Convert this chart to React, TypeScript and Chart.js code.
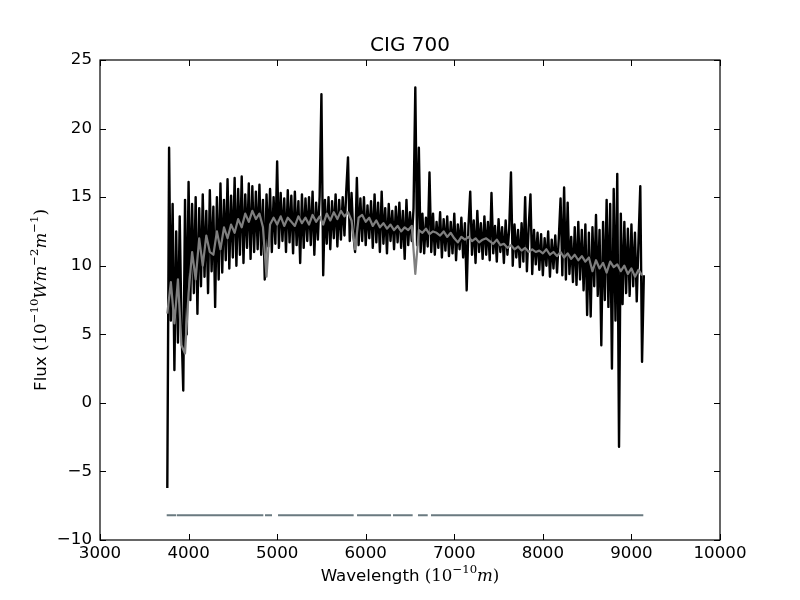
import React, { useEffect, useRef } from 'react'
import { Chart, registerables } from 'chart.js'

Chart.register(...registerables)

// black spectrum: sampled every 20 A from 3760 A
const fluxStart = 3760
const fluxStep = 20
const fluxValues = [
  -6.2, 18.6, 6.0, 14.5, 2.4, 12.5, 4.4, 13.6, 5.5, 0.9,
  14.8, 5.0, 16.1, 7.5, 14.5, 8.0, 15.0, 6.5, 14.2, 8.5,
  15.2, 9.2, 14.0, 8.0, 15.5, 9.6, 14.3, 7.0, 15.0, 9.0,
  16.0, 9.5, 14.8, 10.4, 16.3, 9.8, 15.1, 10.6, 16.4, 10.0,
  15.6, 10.8, 16.5, 10.2, 15.2, 11.3, 16.0, 10.5, 15.8, 11.0,
  15.4, 11.2, 15.9, 10.8, 14.8, 9.0, 15.2, 11.4, 15.6, 11.0,
  15.0, 11.6, 17.6, 11.3, 15.3, 11.8, 14.9, 11.0, 15.5, 11.7,
  15.1, 10.9, 15.4, 11.5, 14.7, 10.2, 15.2, 11.3, 14.9, 11.8,
  15.0, 11.5, 15.4, 10.8, 14.6, 11.9, 15.1, 22.5, 9.3, 14.8,
  11.6, 15.0, 11.2, 14.7, 12.0, 15.2, 11.4, 14.8, 11.9, 15.0,
  12.2, 15.4, 17.9, 11.8, 15.3, 12.3, 11.0, 16.4, 11.5, 14.9,
  11.8, 15.0, 11.5, 14.4, 12.0, 14.7, 11.3, 15.2, 11.7, 14.6,
  11.0, 15.4, 11.6, 14.2, 10.9, 14.5, 11.8, 14.0, 11.2, 14.3,
  11.7, 14.6, 11.3, 14.0, 10.5, 14.8, 11.5, 13.9, 11.8, 14.2,
  23.0, 11.5, 18.6, 11.0, 13.8, 10.9, 13.5, 11.4, 16.8, 11.0,
  13.8, 10.8, 13.2, 11.3, 13.9, 10.6, 13.4, 11.1, 13.6, 10.7,
  13.2, 10.9, 13.8, 10.4, 13.0, 11.2, 13.5, 10.6, 13.1, 8.2,
  12.9, 15.4, 10.8, 13.3, 10.2, 14.0, 11.0, 13.1, 10.5, 13.6,
  10.8, 13.2, 10.4, 15.3, 10.9, 12.9, 10.3, 13.4, 11.0, 12.8,
  10.2, 13.3, 10.8, 12.7, 16.8, 10.0, 13.0, 10.6, 12.6, 9.9,
  13.1, 10.3, 15.0, 9.6, 12.8, 15.2, 9.4, 12.6, 10.1, 12.4,
  9.7, 12.3, 9.3, 12.0, 10.0, 12.5, 9.2, 11.9, 9.8, 12.2,
  9.5, 12.0, 14.9, 9.3, 15.7, 9.0, 14.6, 9.4, 12.1, 8.8,
  12.8, 8.6, 13.2, 9.0, 12.6, 8.2, 13.0, 6.4, 12.4, 6.3,
  12.8, 8.5, 13.7, 7.8, 12.6, 4.2, 13.2, 7.5, 14.8, 7.0,
  14.5, 2.5, 15.6, 6.0, 16.7, -3.2, 13.8, 7.2, 13.2, 8.0,
  12.7, 7.8, 13.0, 8.5, 12.4, 7.4, 11.8, 15.8, 3.0, 9.3,
]

// grey fitted spectrum: sampled every 40 A from 3760 A
const fitStart = 3760
const fitStep = 40
const fitValues = [
  6.5, 8.8, 5.8, 9.0, 4.2, 3.6, 8.0, 11.0, 9.0, 12.0,
  10.0, 12.2, 11.0, 10.8, 12.5, 11.2, 12.8, 12.0, 13.0, 12.4,
  13.4, 12.8, 13.8, 13.2, 14.0, 13.4, 13.8, 12.8, 9.2, 13.0,
  13.5, 13.0, 13.6, 12.9, 13.5, 13.2, 12.9, 13.6, 13.1, 13.5,
  13.0, 13.7, 13.2, 13.6, 13.0, 13.8, 13.3, 13.9, 13.4, 14.0,
  13.6, 13.9, 13.3, 11.2, 13.5, 13.7, 13.2, 13.5, 12.9, 13.3,
  12.8, 13.1, 12.7, 13.0, 12.6, 12.9, 12.5, 12.8, 12.6, 12.9,
  9.4, 12.6, 12.4, 12.7, 12.3, 12.5, 12.4, 12.2, 12.5, 12.1,
  12.4, 12.0, 11.7, 12.1, 11.9, 12.1, 11.8, 12.0, 11.7, 11.9,
  12.0, 11.8, 11.6, 11.9, 11.5, 11.6, 11.3, 11.5, 11.2, 11.4,
  11.1, 11.3, 11.0, 11.2, 11.0, 11.1, 10.9, 11.2, 10.8, 11.0,
  10.7, 11.0, 10.6, 10.9, 10.5, 10.8, 10.4, 10.7, 10.3, 10.6,
  9.6, 10.4, 9.8, 10.2, 9.5, 10.3, 9.9, 10.1, 9.6, 10.0,
  9.4, 9.8, 9.2, 9.7, 9.3,
]

// good-pixel mask segments, drawn at a constant level
const maskLevel = -8.2
const maskStarts = [3753, 3866, 4863, 5010, 5902, 6308, 6590, 6737]
const maskEnds = [3858, 4844, 4942, 5864, 6286, 6530, 6700, 9134]

const xTicks = [3000, 4000, 5000, 6000, 7000, 8000, 9000, 10000]
const yTicks = [-10, -5, 0, 5, 10, 15, 20, 25]

const titleText = 'CIG 700'
const FONT = '"DejaVu Sans", sans-serif'
const MATH = '"DejaVu Serif", serif'
const SIZE = 16.67

type Part = { t: string; font: string; dy?: number }

const sup = (t: string): Part => ({ t, font: `${SIZE * 0.7}px ${MATH}`, dy: -7 })
const it = (t: string): Part => ({ t, font: `italic ${SIZE}px ${MATH}` })
const rm = (t: string): Part => ({ t, font: `${SIZE}px ${MATH}` })
const sans = (t: string): Part => ({ t, font: `${SIZE}px ${FONT}` })

const xLabel: Part[] = [sans('Wavelength '), rm('(10'), sup('\u221210'), it('m'), rm(')')]
const yLabel: Part[] = [
  sans('Flux '), rm('(10'), sup('\u221210'), it('Wm'), sup('\u22122'), it('m'), sup('\u22121'), rm(')'),
]

function drawRich(ctx: CanvasRenderingContext2D, parts: Part[], x: number, y: number, rot: number) {
  ctx.save()
  ctx.translate(x, y)
  ctx.rotate(rot)
  ctx.textBaseline = 'middle'
  ctx.textAlign = 'left'
  ctx.fillStyle = '#000'
  let w = 0
  for (const p of parts) {
    ctx.font = p.font
    w += ctx.measureText(p.t).width
  }
  let cx = -w / 2
  for (const p of parts) {
    ctx.font = p.font
    ctx.fillText(p.t, cx, p.dy || 0)
    cx += ctx.measureText(p.t).width
  }
  ctx.restore()
}

const framePlugin = {
  id: 'frame',
  afterDraw(chart: any) {
    const { ctx, chartArea: a, scales } = chart
    ctx.save()
    ctx.strokeStyle = '#000'
    ctx.lineWidth = 1
    ctx.beginPath()
    for (const v of xTicks) {
      const px = Math.round(scales.x.getPixelForValue(v)) + 0.5
      ctx.moveTo(px, a.bottom)
      ctx.lineTo(px, a.bottom - 6)
      ctx.moveTo(px, a.top)
      ctx.lineTo(px, a.top + 6)
    }
    for (const v of yTicks) {
      const py = Math.round(scales.y.getPixelForValue(v)) + 0.5
      ctx.moveTo(a.left, py)
      ctx.lineTo(a.left + 6, py)
      ctx.moveTo(a.right, py)
      ctx.lineTo(a.right - 6, py)
    }
    ctx.stroke()
    ctx.lineWidth = 1.2
    ctx.strokeRect(a.left, a.top, a.right - a.left, a.bottom - a.top)
    ctx.fillStyle = '#000'
    ctx.font = `20px ${FONT}`
    ctx.textAlign = 'center'
    ctx.textBaseline = 'middle'
    ctx.fillText(titleText, (a.left + a.right) / 2, 46)
    ctx.restore()
    drawRich(ctx, xLabel, (a.left + a.right) / 2, 577, 0)
    drawRich(ctx, yLabel, 42, (a.top + a.bottom) / 2, -Math.PI / 2)
  },
}

const App = () => {
  const chartRef = useRef<HTMLCanvasElement | null>(null)
  const chartInstanceRef = useRef<Chart | null>(null)

  useEffect(() => {
    document.body.style.margin = '0'
    const ctx = chartRef.current!.getContext('2d')!

    const fluxData = fluxValues.map((y, i) => ({ x: fluxStart + i * fluxStep, y }))
    const fitData = fitValues.map((y, i) => ({ x: fitStart + i * fitStep, y }))
    const maskData: { x: number; y: number | null }[] = []
    maskStarts.forEach((s, i) => {
      maskData.push({ x: s, y: maskLevel })
      maskData.push({ x: maskEnds[i], y: maskLevel })
      maskData.push({ x: maskEnds[i] + 1, y: null })
    })

    const tickFont = { family: FONT, size: SIZE }
    const minus = (v: any) => String(v).replace('-', '\u2212')

    chartInstanceRef.current = new Chart(ctx, {
      type: 'line',
      data: {
        datasets: [
          {
            data: fitData,
            borderColor: '#7f7f7f',
            borderWidth: 2.2,
            borderJoinStyle: 'round',
            pointRadius: 0,
            order: 0,
          },
          {
            data: maskData,
            borderColor: '#6a7a80',
            borderWidth: 2,
            pointRadius: 0,
            spanGaps: false,
            order: 1,
          },
          {
            data: fluxData,
            borderColor: '#000000',
            borderWidth: 2.4,
            borderJoinStyle: 'round',
            pointRadius: 0,
            order: 2,
          },
        ],
      },
      options: {
        animation: false,
        responsive: true,
        maintainAspectRatio: false,
        layout: { padding: { top: 60, right: 80, left: 0, bottom: 0 } },
        plugins: { legend: { display: false }, tooltip: { enabled: false } },
        scales: {
          x: {
            type: 'linear',
            min: 3000,
            max: 10000,
            afterFit: (s: any) => { s.height = 60 },
            afterBuildTicks: (s: any) => { s.ticks = xTicks.map((value) => ({ value })) },
            grid: { display: false, drawTicks: false },
            border: { display: false },
            ticks: { font: tickFont, color: '#000', padding: 4, maxRotation: 0, callback: minus },
          },
          y: {
            type: 'linear',
            min: -10,
            max: 25,
            afterFit: (s: any) => { s.width = 100 },
            afterBuildTicks: (s: any) => { s.ticks = yTicks.map((value) => ({ value })) },
            grid: { display: false, drawTicks: false },
            border: { display: false },
            ticks: { font: tickFont, color: '#000', padding: 8, callback: minus },
          },
        },
      },
      plugins: [framePlugin],
    } as any)

    return () => {
      chartInstanceRef.current?.destroy()
    }
  }, [])

  return (
    <div style={{ width: 800, height: 600, position: 'relative' }}>
      <canvas ref={chartRef}></canvas>
    </div>
  )
}

export default App
